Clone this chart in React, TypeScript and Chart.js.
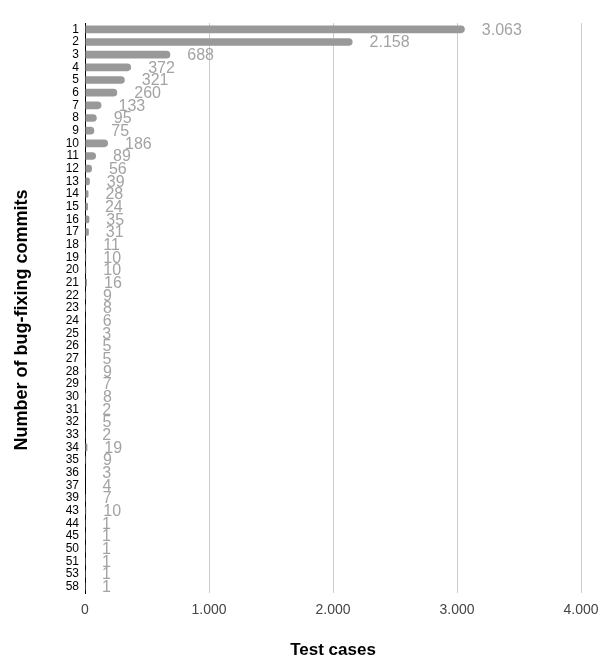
import { useEffect, useRef } from 'react';
import { Chart, registerables } from 'chart.js';

Chart.register(...registerables);

const categories = ['1', '2', '3', '4', '5', '6', '7', '8', '9', '10', '11', '12', '13', '14', '15', '16', '17', '18', '19', '20', '21', '22', '23', '24', '25', '26', '27', '28', '29', '30', '31', '32', '33', '34', '35', '36', '37', '39', '43', '44', '45', '50', '51', '53', '58'];
const testCases = [3063, 2158, 688, 372, 321, 260, 133, 95, 75, 186, 89, 56, 39, 28, 24, 35, 31, 11, 10, 10, 16, 9, 8, 6, 3, 5, 5, 9, 7, 8, 2, 5, 2, 19, 9, 3, 4, 7, 10, 1, 1, 1, 1, 1, 1];
const xTickValues = [0, 1000, 2000, 3000, 4000];
const xTitle = 'Test cases';
const yTitle = 'Number of bug-fixing commits';

const FONT = '"Liberation Sans", Arial, sans-serif';

const fmt = (v: number) => String(Math.round(v)).replace(/\B(?=(\d{3})+(?!\d))/g, '.');

const valueLabels = {
  id: 'valueLabels',
  afterDatasetsDraw(chart: any) {
    const ctx = chart.ctx;
    const meta = chart.getDatasetMeta(0);
    ctx.save();
    ctx.font = `16px ${FONT}`;
    ctx.fillStyle = '#a3a3a3';
    ctx.textBaseline = 'middle';
    ctx.textAlign = 'left';
    meta.data.forEach((el: any, i: number) => {
      const v = chart.data.datasets[0].data[i] as number;
      ctx.fillText(fmt(v), el.x + 17, el.y + 1);
    });
    ctx.restore();
  },
};

const yTitlePlugin = {
  id: 'yTitlePlugin',
  afterDraw(chart: any) {
    const ctx = chart.ctx;
    ctx.save();
    ctx.translate(22, 320);
    ctx.rotate(-Math.PI / 2);
    ctx.font = `bold 18px ${FONT}`;
    ctx.fillStyle = '#000000';
    ctx.textAlign = 'center';
    ctx.textBaseline = 'middle';
    ctx.fillText(yTitle, 0, 0);
    ctx.restore();
  },
};

export default function App() {
  const ref = useRef<HTMLCanvasElement>(null);
  useEffect(() => {
    if (!ref.current) return;
    const chart = new Chart(ref.current, {
      type: 'bar',
      data: {
        labels: categories,
        datasets: [
          {
            data: testCases,
            backgroundColor: '#999999',
            borderRadius: 4,
            categoryPercentage: 1,
            barPercentage: 0.6,
          },
        ],
      },
      options: {
        indexAxis: 'y',
        responsive: false,
        animation: false,
        layout: { padding: { top: 23, right: 24, left: 0, bottom: 0 } },
        plugins: { legend: { display: false }, tooltip: { enabled: false } },
        scales: {
          x: {
            min: 0,
            max: 4000,
            afterBuildTicks: (s: any) => {
              s.ticks = xTickValues.map((v) => ({ value: v }));
            },
            afterFit: (s: any) => {
              s.height = 75;
              s.paddingRight = 0;
              s.paddingLeft = 0;
            },
            ticks: {
              callback: (v: any) => fmt(Number(v)),
              color: '#444444',
              font: { family: FONT, size: 14 },
              padding: 9,
            },
            grid: { color: '#cccccc', drawTicks: false },
            border: { display: false },
            title: {
              display: true,
              text: xTitle,
              color: '#000000',
              font: { family: FONT, size: 17, weight: 'bold' },
              padding: { top: 0, bottom: 7 },
            },
          },
          y: {
            afterFit: (s: any) => {
              s.width = 85;
            },
            ticks: {
              autoSkip: false,
              color: '#000000',
              font: { family: FONT, size: 12 },
              padding: 6,
            },
            grid: { display: false, drawTicks: false },
            border: { display: true, color: '#000000', width: 1 },
          },
        },
      },
      plugins: [valueLabels, yTitlePlugin],
    });
    return () => chart.destroy();
  }, []);
  return (
    <div style={{ position: 'fixed', left: 0, top: 0, width: 605, height: 668, background: '#fff' }}>
      <canvas ref={ref} width={605} height={668} />
    </div>
  );
}
